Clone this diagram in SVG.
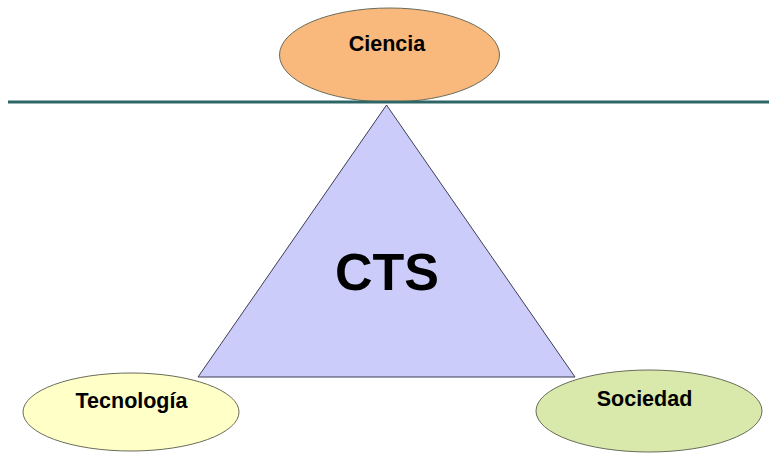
<svg xmlns="http://www.w3.org/2000/svg" width="769" height="453" viewBox="0 0 769 453">
<style>
.node ellipse{stroke:#6b6b5a;stroke-width:1}
.lbl{font-family:"Liberation Sans",Arial,sans-serif;font-weight:bold;fill:#000;text-anchor:middle}
</style>
<rect width="769" height="453" fill="#fff"/>
<g id="tecnologia" class="node">
<ellipse cx="131" cy="412" rx="108" ry="39" fill="#ffffc8"/>
<text class="lbl" x="131.5" y="408" font-size="21.5">Tecnología</text>
</g>
<g id="sociedad" class="node">
<ellipse cx="649" cy="411" rx="113" ry="41" fill="#d8e9ab"/>
<text class="lbl" x="644.5" y="406" font-size="21.5">Sociedad</text>
</g>
<g id="ciencia" class="node">
<ellipse cx="389.5" cy="55" rx="110" ry="47" fill="#f9b97c"/>
<text class="lbl" x="387" y="51" font-size="21.5">Ciencia</text>
</g>
<g id="connectors">
<line x1="8" y1="102" x2="769" y2="102" stroke="#2e6565" stroke-width="3"/>
</g>
<g id="cts" class="node">
<polygon points="386.5,105 198,377 575,377" fill="#ccccfa" stroke="#3d3d55" stroke-width="1"/>
<text class="lbl" x="387" y="290" font-size="52">CTS</text>
</g>
</svg>
